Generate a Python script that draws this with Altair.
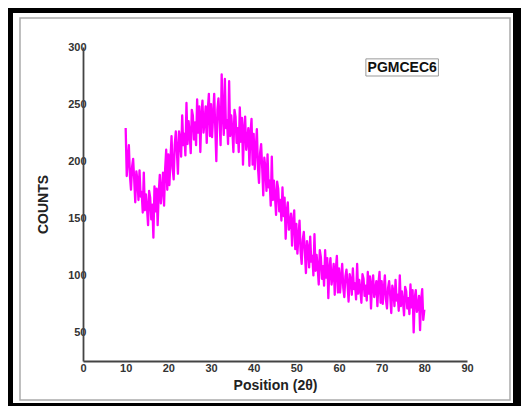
import altair as alt
import pandas as pd

# XRD pattern, 2-theta from 10 to 80 in 0.25 steps
counts = [
    229, 187, 201, 214,  187, 175, 195, 202,  184, 164, 191, 184,  166, 192, 169, 173,   # 10-13
    155, 190, 157, 171,  159, 144, 174, 168,  149, 162, 133, 178,  156, 176, 144, 172,   # 14-17
    188, 163, 175, 190,  161, 193, 210, 175,  206, 179, 201, 222,  194, 184, 214, 226,   # 18-21
    209, 189, 226, 220,  204, 240, 214, 224,  205, 251, 215, 235,  224, 207, 245, 240,   # 22-25
    219, 234, 214, 254,  225, 248, 208, 240,  253, 225, 235, 248,  216, 245, 259, 222,   # 26-29
    250, 221, 240, 259,  229, 200, 245, 255,  236, 214, 276, 242,  223, 272, 229, 236,   # 30-33
    215, 270, 222, 240,  227, 208, 245, 239,  216, 229, 208, 247,  217, 238, 197, 228,   # 34-37
    239, 210, 218, 229,  196, 224, 237, 197,  224, 193, 211, 228,  195, 181, 207, 215,   # 38-41
    194, 170, 203, 194,  174, 206, 177, 183,  161, 204, 166, 183,  169, 153, 182, 176,   # 42-45
    156, 166, 148, 177,  152, 168, 132, 156,  164, 140, 145, 154,  126, 147, 157, 123,   # 46-49
    145, 119, 134, 148,  121, 110, 131, 138,  121, 102, 130, 124,  107, 134, 112, 117,   # 50-53
    100, 136, 104, 118,  107, 92, 122, 116,   97, 108, 91, 122,    98, 115, 80, 106,    # 54-57
    115, 92, 99, 110,    83, 105, 117, 85,    106, 85, 98, 110,    89, 81, 99, 105,     # 58-61
    92, 77, 101, 96,     83, 106, 88, 93,     79, 110, 84, 96,     88, 76, 101, 97,     # 62-65
    82, 91, 78, 103,     84, 99, 71, 92,      100, 81, 87, 95,     73, 93, 103, 76,     # 66-69
    95, 75, 88, 100,     79, 71, 89, 95,      82, 67, 91, 86,      73, 96, 78, 83,      # 70-73
    69, 100, 73, 86,     77, 65, 90, 86,      71, 80, 66, 92,      72, 87, 50, 80,      # 74-77
    87, 68, 73, 82,      52, 79, 88, 61,      70,                                       # 78-80
]
start_angle = 10.0
step = 0.25
positions = [start_angle + step * i for i in range(len(counts))]

x_ticks = [0, 10, 20, 30, 40, 50, 60, 70, 80, 90]
y_ticks = [50, 100, 150, 200, 250, 300]
sample_name = ["PGMCEC6"]

FONT = "Liberation Sans"
W, H = 384, 314

xrd = pd.DataFrame({"pos": positions, "counts": counts})
one = pd.DataFrame({"k": [0]})
label_df = pd.DataFrame({"name": sample_name, "x": [74.8], "y": [282.0],
                         "x1": [66.3], "x2": [83.3], "y1": [274.6], "y2": [289.6]})

xs = alt.Scale(domain=[0, 90], nice=False)
ys = alt.Scale(domain=[25, 300], nice=False, zero=False)

# white page inside black frame
page = alt.Chart(one).mark_rect(color="white").encode(
    x=alt.value(-70), x2=alt.value(430), y=alt.value(-34), y2=alt.value(356)
)
border = alt.Chart(one).mark_rect(fillOpacity=0, stroke="#aaaaaa", strokeWidth=1.5).encode(
    x=alt.value(-63), x2=alt.value(427), y=alt.value(-29), y2=alt.value(353)
)

line = alt.Chart(xrd).mark_line(color="#ff00ff", strokeWidth=2.3, strokeJoin="round").encode(
    x=alt.X("pos:Q", scale=xs,
            axis=alt.Axis(title="Position (2θ)", values=x_ticks, format="d", zindex=2,
                          grid=False, ticks=False, domainColor="#444444", domainWidth=1.8,
                          labelFont=FONT, labelFontSize=11, labelFontWeight="bold",
                          labelColor="#333333", labelPadding=1, labelFlush=False,
                          titleFont=FONT, titleFontSize=14, titleFontWeight="bold",
                          titleColor="#222222", titleX=192, titleY=24,
                          titleBaseline="middle", titleAlign="center")),
    y=alt.Y("counts:Q", scale=ys,
            axis=alt.Axis(title="COUNTS", values=y_ticks, format="d", zindex=2,
                          grid=False, ticks=False, domainColor="#444444", domainWidth=1.8,
                          labelFont=FONT, labelFontSize=11, labelFontWeight="bold",
                          labelColor="#333333", labelPadding=-3, labelFlush=False,
                          titleFont=FONT, titleFontSize=14, titleFontWeight="bold",
                          titleColor="#222222", titleX=-40, titleY=157, titleAngle=-90,
                          titleBaseline="middle", titleAlign="center")),
)

box = alt.Chart(label_df).mark_rect(fill="white", stroke="#999999", strokeWidth=1).encode(
    x=alt.X("x1:Q", scale=xs), x2="x2:Q", y=alt.Y("y1:Q", scale=ys), y2="y2:Q"
)
text = alt.Chart(label_df).mark_text(font=FONT, fontSize=14, fontWeight="bold",
                                      color="#111111", baseline="middle", align="center").encode(
    x=alt.X("x:Q", scale=xs), y=alt.Y("y:Q", scale=ys), text="name:N"
)

chart = alt.layer(page, border, line, box, text).properties(
    width=W, height=H,
    padding={"left": 75, "top": 39, "right": 54, "bottom": 45},
    autosize=alt.AutoSizeParams(type="none"),
    background="black",
).configure_view(strokeWidth=0)

chart.save("out.html", embed_options={"renderer": "svg", "actions": False})
